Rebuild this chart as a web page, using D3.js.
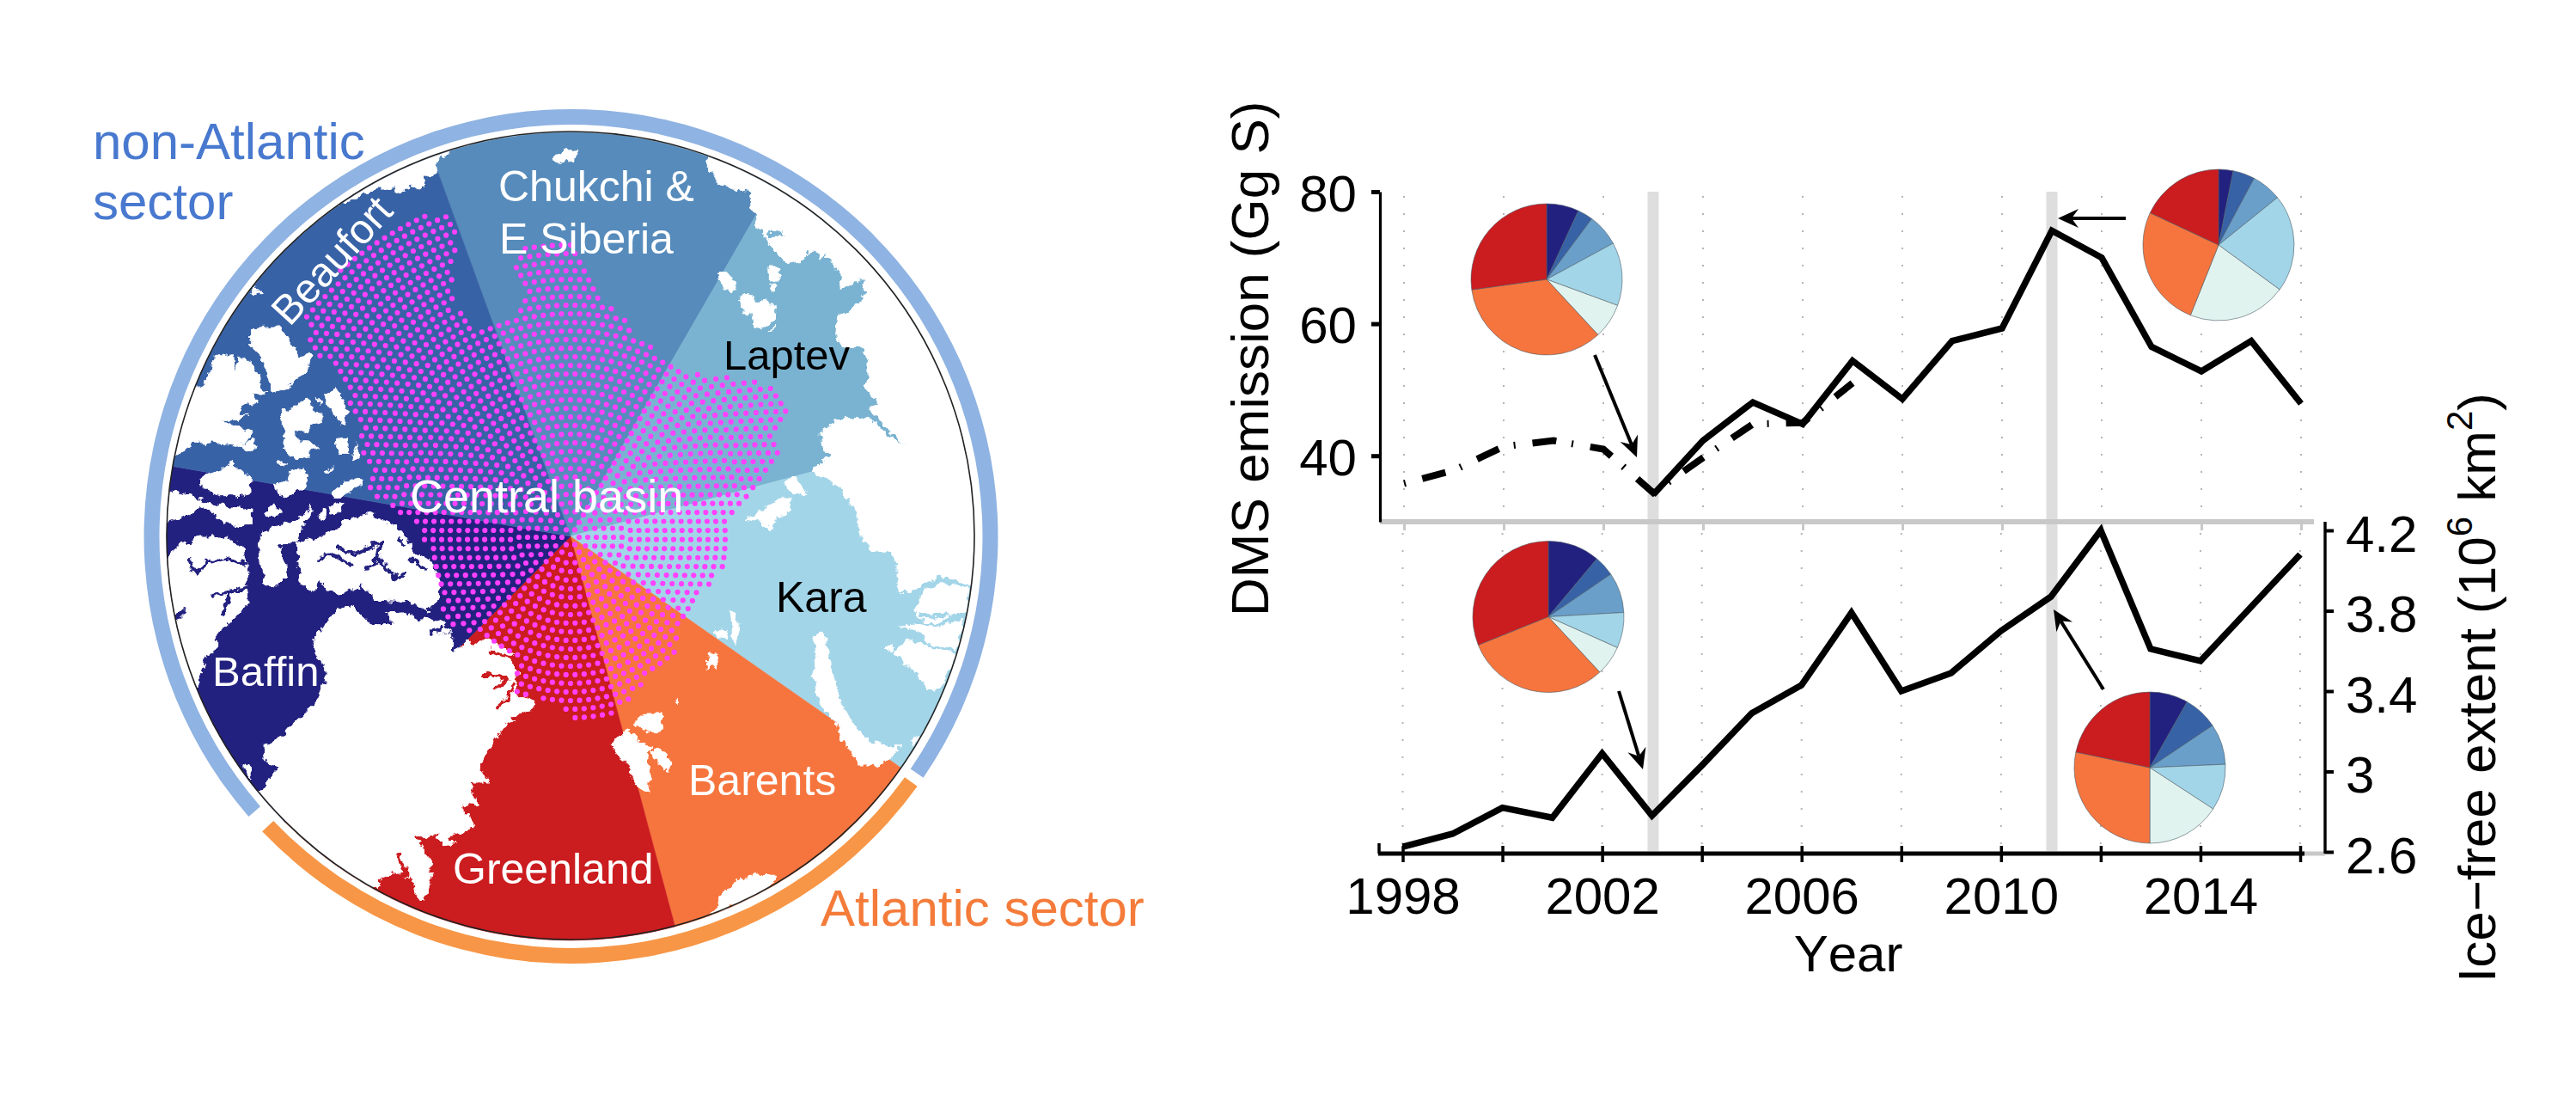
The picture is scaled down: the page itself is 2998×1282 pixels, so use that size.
<!DOCTYPE html>
<html><head><meta charset="utf-8">
<script src="https://cdn.jsdelivr.net/npm/d3@7/dist/d3.min.js"></script>
<style>html,body{margin:0;padding:0;background:#fff}svg{display:block}text{font-family:"Liberation Sans",Arial,sans-serif}</style>
</head><body><div id="c"></div>
<script>
// ---------- chart data ----------
const years = d3.range(1998, 2017);
const dmsSolidYears = [2003,2004,2005,2006,2007,2008,2009,2010,2011,2012,2013,2014,2015,2016];
const dmsSolid = [34.1,42.3,48.1,44.8,54.4,48.6,57.4,59.3,74.1,70,56.5,52.8,57.4,47.9];
const dmsDashYears = [1998,1999,2000,2001,2002,2003,2004,2005,2006,2007];
const dmsDash = [35.8,37.8,41.4,42.3,41,34.4,39.7,44.8,45,51];
const iceFree = [2.625,2.69,2.82,2.77,3.09,2.78,3.03,3.29,3.43,3.79,3.40,3.49,3.70,3.87,4.20,3.61,3.55,3.815,4.08];
const yearTicks = [1998,2000,2002,2004,2006,2008,2010,2012,2014,2016];
const yearLabels = [1998,2002,2006,2010,2014];
const dmsTicks = [40,60,80];
const iceTicks = [2.6,3,3.4,3.8,4.2];
const highlightYears = [2003,2011];
const pieColors = ["#23217f","#3862a6","#6a9fca","#a3d5e8","#e1f3ef","#f6753e","#cb1c1f"];
const pieDms2003 = [6.9,3.3,6.9,13.5,7.5,34.7,27.2];
const pieDms2011 = [3.1,4.7,6.4,20.8,21,25.9,18];
const pieIce2003 = [11.1,4.4,8.6,7.6,6.4,30.8,31.1];
const pieIce2011 = [8.2,7.4,8.7,9.9,15.8,28.3,21.7];

// ---------- map data: sector bearings (deg clockwise from north) ----------
const sectorNames = ["Chukchi","Laptev","Kara","Barents","Greenland","Baffin","Beaufort"];
const sectorColors = ["#568bbb","#7ab3d1","#a3d5e8","#f6753e","#cb1c1f","#23217f","#3862a6"];
const sectorStart = [340,390,435,485,525,585,640];
const sectorEnd   = [390,435,485,525,585,640,700];
const arcNonAtlantic = [-131,124.4];
const arcAtlantic = [125.8,226.3];

// land outlines, in map-tile units
const landNW = [
 "640,295 700,270 780,240 830,240 850,252 900,225 910,240 935,235 945,195 985,180 975,155 1025,115 1040,60 900,100 600,200",
 "335,600 350,580 370,605 345,607",
 "165,935 200,870 205,815 240,820 275,815 280,880 300,830 335,845 370,900 385,960 350,960 340,950 355,985 300,995 295,1030 330,1030 285,1045 225,1050 280,1065 350,1085 330,1110 295,1130 350,1115 355,1145 320,1155 290,1135 200,1125 130,1130 75,1170 0,1150 0,900",
 "335,730 415,720 445,720 480,790 510,820 545,825 530,880 475,910 465,935 405,950 390,880 370,825 335,790",
 "445,1020 480,1010 500,990 530,975 550,1000 580,1025 590,1050 550,1060 525,1090 490,1085 495,1115 540,1120 575,1140 540,1160 500,1185 470,1170 445,1150 455,1100 445,1060",
 "595,960 630,925 650,960 670,1010 665,1060 640,1050 620,1020 600,990",
 "565,965 585,985 580,995",
 "630,1115 670,1110 675,1165 650,1165 635,1140",
 "690,1170 705,1130 715,1175 695,1185",
 "155,1250 230,1220 265,1190 290,1220 335,1240 330,1275 340,1300 290,1310 220,1310 175,1280 155,1260",
 "415,1270 465,1265 470,1225 520,1215 535,1260 530,1285 490,1290 470,1315 425,1300",
 "615,1305 650,1275 680,1250 730,1260 700,1285 650,1315 620,1315",
 "585,1222 622,1215 590,1228",
 "435,1190 460,1195 445,1205",
 "30,1295 100,1300 170,1330 240,1345 340,1360 340,1410 300,1415 240,1400 170,1350 90,1385 30,1400",
 "380,1375 410,1335 445,1370 410,1385",
 "610,1350 665,1330 640,1370 615,1375",
 "575,1370 595,1360 595,1395 580,1395",
 "370,1445 420,1415 480,1400 520,1380 545,1345 540,1380 510,1420 500,1475 370,1475",
 "1395,125 1440,105 1480,100 1460,135 1420,150 1400,140"
];
const landNE = [
 "490,135 490,165 520,210 570,235 640,250 645,300 660,340 650,365 690,400 720,450 770,500 820,490 850,455 890,485 900,465 950,530 955,585 1035,555 1040,600 1010,650 945,690 935,740 960,790 1020,790 1050,830 1050,890 1040,930 1085,985 1050,1010 1090,1040 1130,1090 1185,1135 1130,1110 1080,1060 1060,1040 1010,1040 950,1040 885,1090 890,1130 915,1170 850,1225 950,1280 1000,1345 1020,1420 1030,1475 1560,1475 1560,600 1000,100 600,0",
 "525,535 555,525 590,570 580,605 555,590",
 "705,510 735,510 745,550 720,570 705,545",
 "710,580 730,580 720,595",
 "595,620 635,600 660,630 720,640 725,700 680,725 650,720 645,670 620,680",
 "710,735 728,715 720,735",
 "755,1270 790,1240 840,1310 790,1300",
 "625,1390 700,1350 740,1320 790,1320 770,1370 735,1385 710,1430 680,1400"
];
const landSW = [
 "30,90 105,30 120,45 135,15 240,15 310,45 325,110 320,180 328,240 285,295 240,335 215,350 215,400 180,430 165,480 150,540 100,500 0,300 0,90",
 "365,40 375,0 440,0 430,30 465,150 440,175 410,195 385,180 370,110",
 "500,35 545,20 560,30 590,0 630,-10 660,-40 700,-50 745,-65 790,-50 840,-25 880,20 905,70 960,90 1000,170 990,235 950,270 880,235 860,240 800,235 770,235 725,180 680,200 650,215 600,190 570,170 550,205 510,170 500,100",
 "600,480 550,380 600,310 650,260 690,255 760,320 830,320 815,280 870,275 920,300 965,300 1010,320 1030,345 970,355 1040,350 1040,415 1075,395 1100,370 1115,400 1150,370 1180,375 1250,425 1240,440 1250,470 1270,490 1255,510 1270,570 1330,590 1310,620 1240,640 1260,660 1210,675 1200,710 1170,750 1130,815 1165,870 1100,870 1130,950 1075,945 1110,1030 1030,1060 1050,1080 1000,1095 985,1050 915,1070 960,1130 965,1190 945,1285 910,1270 900,1200 880,1190 850,1130 890,1200 830,1190 790,1220 770,1240 650,1300 330,930 385,885 430,820 380,790 385,745 440,715 470,680 560,600 600,500",
 "305,815 330,805 345,870 330,860"
];
const landSE = [
 "1025,-5 1060,60 1140,70 1155,110 1155,205 1200,205 1250,175 1300,150 1400,175 1470,175 1500,-5",
 "1210,270 1240,215 1300,175 1400,190 1395,270 1340,290 1290,315 1250,310 1220,290",
 "1160,325 1235,320 1290,330 1385,300 1360,405 1260,385 1230,340",
 "1140,420 1180,370 1250,395 1365,425 1300,545 1250,540 1210,480",
 "1110,400 1135,385 1135,415",
 "860,355 880,345 905,360 915,430 935,520 960,610 1010,680 1060,730 1160,745 1130,790 1090,810 1010,810 1000,770 960,720 935,660 880,590 860,490 875,440",
 "570,275 590,280 600,340 590,395 580,370 575,320",
 "515,345 560,340 560,370 525,365",
 "150,735 190,705 210,685 240,710 255,740 280,735 300,750 280,770 290,840 285,910 245,885 225,850 215,810 185,790 165,755",
 "295,760 320,750 365,805 355,825 335,830 310,790",
 "230,665 270,630 330,630 335,690 290,700 250,675",
 "480,470 500,420 525,420 520,470 500,460",
 "375,590 385,580 385,600",
 "530,1270 600,1210 650,1190 725,1195 720,1220 650,1280 500,1330 530,1300",
 "1200,725 1230,715 1210,745"
];
// water channels drawn over land: tile units
const channelsBaffin = [
 "155,130 190,100 240,85 290,100 320,108","120,90 130,125 155,130","205,215 260,205 325,190","260,210 240,280","75,300 105,270",
 "570,95 610,70 660,95 690,115","640,50 700,75 760,45 790,30","790,30 780,90 810,120 840,160 870,145","780,90 740,125",
 "850,15 870,40","900,95 950,125","965,350 1005,330","1040,415 1060,350","340,830 345,880"
];
const channelsGreenland = [
 "1140,495 1190,495 1230,510 1190,545","1250,530 1230,580 1195,610","1175,410 1245,435",
 "850,1125 880,1190 830,1200 785,1215","915,1060 960,1090 990,1125 970,1170"
];
const channelsKara = ["1240,290 1325,285"];
const channelsLaptev = ["705,400 750,395"];
// outline of the stippled region
const dotEdgeSW = "900,-45 960,85 1000,170 1000,240 985,285 1040,320 1110,345 1150,360 1250,430 1265,490 1255,560 1340,570 1400,600 1455,640";
const dotEdgeSE = "70,665 130,655 190,610 230,565 280,515 330,480 380,410 395,355 430,255 480,210 535,140 545,110 555,50";
const dotEdgeNE = "580,1390 600,1350 650,1285 690,1230 740,1170 740,1100 775,1040 755,980 720,930 640,905 540,880 470,885 380,865 345,845 310,800 230,740 205,700 175,665 120,625 120,590 90,530 60,500 30,440";
const dotEdgeNW = "1440,430 1290,445 1255,520 1290,580 1295,650 1200,705 1120,735 1075,680 1045,640 1040,500 1065,395 1030,335 920,318 810,380 720,450 630,540 540,650 525,700 540,785 600,850 660,885 672,960 705,1050 720,1130 745,1210 755,1300 830,1350";

// ---------- layout ----------
const W=2998,H=1282;
const svg=d3.select("#c").append("svg").attr("width",W).attr("height",H).attr("viewBox",`0 0 ${W} ${H}`);
const cx=664,cy=624,R=470;
const tile=(ox,oy)=>({x:d3.scaleLinear().domain([0,1470]).range([ox,ox+490]),y:d3.scaleLinear().domain([0,1470]).range([oy,oy+490])});
const tNW=tile(180,140),tNE=tile(660,140),tSW=tile(180,620),tSE=tile(660,620);
const parse=s=>s.split(" ").map(p=>p.split(",").map(Number));
const project=(t,s)=>parse(s).map(p=>[t.x(p[0]),t.y(p[1])]);
const lineGen=d3.line();

const defs=svg.append("defs");
defs.append("clipPath").attr("id","disc").append("circle").attr("cx",cx).attr("cy",cy).attr("r",R);
// fractal roughening of the traced coastlines
const rough=defs.append("filter").attr("id","coast").attr("filterUnits","userSpaceOnUse").attr("x",100).attr("y",60).attr("width",1150).attr("height",1150).attr("color-interpolation-filters","sRGB");
rough.append("feTurbulence").attr("type","fractalNoise").attr("baseFrequency",0.11).attr("numOctaves",3).attr("seed",4).attr("result","n");
rough.append("feDisplacementMap").attr("in","SourceGraphic").attr("in2","n").attr("scale",11).attr("xChannelSelector","R").attr("yChannelSelector","G");

const map=svg.append("g");
const rad=d=>d*Math.PI/180;
const sectors=map.append("g").attr("transform",`translate(${cx},${cy})`);
sectorNames.forEach((n,i)=>{
  sectors.append("path").attr("d",d3.arc()({innerRadius:0,outerRadius:R,startAngle:rad(sectorStart[i]),endAngle:rad(sectorEnd[i])}))
    .attr("fill",sectorColors[i]).attr("stroke",sectorColors[i]).attr("stroke-width",0.5);
});
const land=map.append("g").attr("clip-path","url(#disc)").append("g").attr("filter","url(#coast)");
[[tNW,landNW],[tNE,landNE],[tSW,landSW],[tSE,landSE]].forEach(([t,list])=>{
  list.forEach(s=>land.append("path").attr("d",lineGen(project(t,s))+"Z").attr("fill","#fff").attr("stroke","#fff").attr("stroke-width",1).attr("stroke-linejoin","round"));
});
[[tSW,channelsBaffin,"#23217f",4],[tSW,channelsGreenland,"#cb1c1f",4],[tSE,channelsKara,"#a3d5e8",5],[tNE,channelsLaptev,"#7ab3d1",4]].forEach(([t,list,c,w])=>{
  list.forEach(s=>land.append("path").attr("d",lineGen(project(t,s))).attr("fill","none").attr("stroke",c).attr("stroke-width",w).attr("stroke-linejoin","round").attr("stroke-linecap","round"));
});
// stipple on concentric rings, kept inside the traced outline
const dotEdge=[...project(tSW,dotEdgeSW),...project(tSE,dotEdgeSE),...project(tNE,dotEdgeNE),...project(tNW,dotEdgeNW)];
const ringStep=10, dotSpacing=10.6, dots=[];
d3.range(1,48).forEach(k=>{
  const r=k*ringStep, n=Math.round(2*Math.PI*r/dotSpacing);
  d3.range(n).forEach(j=>{
    const a=2*Math.PI*(j+(k%2)*0.5)/n, p=[cx+r*Math.sin(a),cy+1-r*Math.cos(a)];
    if(d3.polygonContains(dotEdge,p)) dots.push(p);
  });
});
map.append("g").attr("fill","#ff40ff").selectAll("circle").data(dots).join("circle").attr("cx",d=>d[0]).attr("cy",d=>d[1]).attr("r",3.1);
map.append("circle").attr("cx",cx).attr("cy",cy-1).attr("r",R).attr("fill","none").attr("stroke","#222").attr("stroke-width",1.6);
// sector rings
const ringArc=d3.arc().innerRadius(479).outerRadius(497);
const ringG=svg.append("g").attr("transform","translate(664.5,624)");
ringG.append("path").attr("d",ringArc({startAngle:rad(arcNonAtlantic[0]),endAngle:rad(arcNonAtlantic[1])})).attr("fill","#8fb3e2");
ringG.append("path").attr("d",ringArc({startAngle:rad(arcAtlantic[0]),endAngle:rad(arcAtlantic[1])})).attr("fill","#f79646");
// map labels
const mapLabels=[
 ["Chukchi &",580,234,50,"#fff"],["E Siberia",581,295,50,"#fff"],["Laptev",842,430,49,"#000"],["Kara",903,712,50,"#000"],
 ["Barents",801,925,50,"#fff"],["Greenland",527,1028,50,"#fff"],["Baffin",247,798,49,"#fff"],["Central basin",477,596,54,"#fff"],
 ["non-Atlantic",108,185,60,"#4879cf"],["sector",108,255,60,"#4879cf"],["Atlantic sector",955,1077,60,"#f47b3a"]];
mapLabels.forEach(d=>svg.append("text").attr("x",d[1]).attr("y",d[2]).attr("font-size",d[3]).attr("fill",d[4]).text(d[0]));
svg.append("text").attr("transform","translate(337,381) rotate(-47.5)").attr("font-size",48).attr("fill","#fff").text("Beaufort");

// ---------- time series ----------
const xTop=d3.scaleLinear().domain([1998,2016]).range([1634,2678]);
const xBot=d3.scaleLinear().domain([1998,2016]).range([1632.5,2677]);
const yDms=d3.scaleLinear().domain([30,80]).range([607,223]);
const yIce=d3.scaleLinear().domain([2.6,4.2]).range([991,617]);
const chart=svg.append("g");
// dotted grid
yearTicks.forEach(y=>{
  chart.append("line").attr("x1",xTop(y)).attr("x2",xTop(y)).attr("y1",228).attr("y2",600).attr("stroke","#b5b5b5").attr("stroke-width",2).attr("stroke-dasharray","2,18");
  chart.append("line").attr("x1",xBot(y)).attr("x2",xBot(y)).attr("y1",620).attr("y2",985).attr("stroke","#b5b5b5").attr("stroke-width",2).attr("stroke-dasharray","2,18");
});
// highlight bands
highlightYears.forEach(y=>chart.append("rect").attr("x",xTop(y)-6.5).attr("width",13).attr("y",223).attr("height",767).attr("fill","#dedede"));
// axes
const styleAxis=(g,c,w,fs)=>{g.selectAll("line").attr("stroke",c).attr("stroke-width",w);g.selectAll("text").attr("font-size",fs).attr("fill","#000").attr("font-family",'"Liberation Sans",Arial,sans-serif');};
const gTop=chart.append("g").attr("transform","translate(0,607)").call(d3.axisBottom(xTop).tickValues(yearTicks).tickSize(10).tickFormat(""));
gTop.select(".domain").remove();styleAxis(gTop,"#c8c8c8",3,0);
chart.append("line").attr("x1",1606).attr("x2",2693).attr("y1",607).attr("y2",607).attr("stroke","#c8c8c8").attr("stroke-width",6);
chart.append("line").attr("x1",2680).attr("x2",2706).attr("y1",993).attr("y2",993).attr("stroke","#c8c8c8").attr("stroke-width",5);
const gLeft=chart.append("g").attr("transform","translate(1606,0)").call(d3.axisLeft(yDms).tickValues(dmsTicks).tickSize(10).tickPadding(17).tickSizeOuter(0));
gLeft.select(".domain").attr("stroke","#000").attr("stroke-width",3.2);styleAxis(gLeft,"#000",5,60);
gLeft.selectAll("text").attr("dy","0.37em");
const gRight=chart.append("g").attr("transform","translate(2706,0)").call(d3.axisRight(yIce).tickValues(iceTicks).tickSize(10).tickPadding(14).tickSizeOuter(0).tickFormat(d=>d));
gRight.select(".domain").attr("d","M0,607V993").attr("stroke","#000").attr("stroke-width",3.4);styleAxis(gRight,"#000",4,60);
gRight.selectAll("text").attr("dy","0.40em");
const gBot=chart.append("g").attr("transform","translate(0,993)").call(d3.axisBottom(xBot).tickValues(yearTicks).tickSize(10).tickPadding(17).tickSizeOuter(0).tickFormat(d=>yearLabels.includes(d)?d:""));
gBot.select(".domain").attr("d","M1604,0H2682").attr("stroke","#000").attr("stroke-width",5);styleAxis(gBot,"#000",3.5,60);
gBot.selectAll("line").attr("y1",-9);
chart.append("line").attr("x1",1605).attr("x2",1605).attr("y1",981).attr("y2",993).attr("stroke","#000").attr("stroke-width",3.5);
// series
const lineOf=(x,y)=>d3.line().x(d=>x(d[0])).y(d=>y(d[1]));
chart.append("path").attr("d",lineOf(xTop,yDms)(dmsDashYears.map((v,i)=>[v,dmsDash[i]]))).attr("fill","none").attr("stroke","#000").attr("stroke-width",8).attr("stroke-dasharray","2,20,28,18");
chart.append("path").attr("d",lineOf(xTop,yDms)(dmsSolidYears.map((v,i)=>[v,dmsSolid[i]]))).attr("fill","none").attr("stroke","#000").attr("stroke-width",7.5).attr("stroke-linejoin","miter");
chart.append("path").attr("d",lineOf(xBot,yIce)(years.map((v,i)=>[v,iceFree[i]]))).attr("fill","none").attr("stroke","#000").attr("stroke-width",7.5).attr("stroke-linejoin","miter");
// pies
const pieGen=d3.pie().sort(null);
const drawPie=(vals,x,y)=>{
  const g=chart.append("g").attr("transform",`translate(${x},${y})`);
  g.selectAll("path").data(pieGen(vals)).join("path").attr("d",d3.arc().innerRadius(0).outerRadius(88))
    .attr("fill",(d,i)=>pieColors[i]).attr("stroke","#4d5d66").attr("stroke-width",0.6);
};
drawPie(pieDms2003,1800,325);drawPie(pieDms2011,2582,285);drawPie(pieIce2003,1802,717.5);drawPie(pieIce2011,2502,893);
// arrows
const arrow=(x0,y0,x1,y1)=>{
  const a=Math.atan2(y1-y0,x1-x0),L=24,Wd=11,back=16;
  const bx=x1-back*Math.cos(a),by=y1-back*Math.sin(a);
  chart.append("line").attr("x1",x0).attr("y1",y0).attr("x2",bx).attr("y2",by).attr("stroke","#000").attr("stroke-width",4);
  const p=[[x1,y1],[x1-L*Math.cos(a)+Wd*Math.sin(a),y1-L*Math.sin(a)-Wd*Math.cos(a)],[bx,by],[x1-L*Math.cos(a)-Wd*Math.sin(a),y1-L*Math.sin(a)+Wd*Math.cos(a)]];
  chart.append("path").attr("d",d3.line()(p)+"Z").attr("fill","#000");
};
arrow(1856,413,1905,532);arrow(2474,254,2395,254);arrow(1884,804,1912,895);arrow(2448,802,2390,709);
// axis titles
chart.append("text").attr("x",2151).attr("y",1130).attr("text-anchor","middle").attr("font-size",60).style("font-kerning","none").text("Year");
chart.append("text").attr("transform","translate(1476,717) rotate(-90)").attr("font-size",62).text("DMS emission (Gg S)");
const rt=chart.append("text").attr("transform","translate(2904,1143) rotate(-90)").attr("font-size",62);
rt.append("tspan").text("Ice\u2212free extent (10");
rt.append("tspan").attr("dy",-27).attr("font-size",42).text("6");
rt.append("tspan").attr("dy",27).text(" km");
rt.append("tspan").attr("dy",-27).attr("font-size",42).text("2");
rt.append("tspan").attr("dy",27).text(")");
</script></body></html>
